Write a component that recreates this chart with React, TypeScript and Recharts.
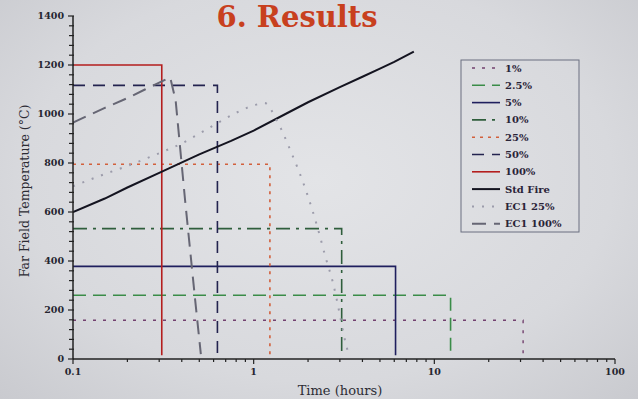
import { Line, LineChart, XAxis, YAxis } from 'recharts'

// step curves: constant temperature until burnout, then drop
const STEP_LABELS = ['1%', '2.5%', '5%', '10%', '25%', '50%', '100%']
const STEP_LEVELS = [158, 260, 378, 532, 795, 1117, 1200]
const STEP_END_HOURS = [31, 12.3, 6.1, 3.07, 1.23, 0.63, 0.31]
const STEP_FLOOR = 15

const STD_FIRE_HOURS = [0.1, 0.15, 0.2, 0.3, 0.5, 0.75, 1, 1.5, 2, 3, 4, 5, 6, 7.7]
const STD_FIRE_TEMP = [600, 655, 700, 760, 835, 890, 932, 1000, 1048, 1110, 1152, 1185, 1213, 1255]

const EC1_25_HOURS = [0.1, 0.15, 0.2, 0.3, 0.4, 0.5, 0.63, 0.8, 1, 1.15, 1.34, 1.6, 1.97, 2.25, 2.5, 2.75, 3, 3.15, 3.35]
const EC1_25_TEMP = [705, 755, 788, 840, 880, 920, 963, 1005, 1035, 1045, 975, 850, 677, 540, 415, 310, 180, 100, 20]

const EC1_100_HOURS = [0.1, 0.15, 0.2, 0.25, 0.3, 0.345, 0.37, 0.417, 0.473, 0.51]
const EC1_100_TEMP = [965, 1025, 1065, 1100, 1128, 1150, 1055, 650, 250, 20]

const X_TICKS = [
  0.1, 0.2, 0.3, 0.4, 0.5, 0.6, 0.7, 0.8, 0.9,
  1, 2, 3, 4, 5, 6, 7, 8, 9,
  10, 20, 30, 40, 50, 60, 70, 80, 90, 100,
]
const X_MAJOR = [0.1, 1, 10, 100]
const Y_TICKS = Array.from({ length: 36 }, (_, i) => i * 40)

const STYLES = [
  { color: '#73416f', dash: '3 7', width: 1.4, curve: 'linear' },
  { color: '#3a8c48', dash: '13 7', width: 1.6, curve: 'linear' },
  { color: '#1f1f5e', dash: undefined, width: 1.6, curve: 'linear' },
  { color: '#2f5e3c', dash: '14 6 3 6', width: 1.6, curve: 'linear' },
  { color: '#d2603c', dash: '3 5', width: 1.6, curve: 'linear' },
  { color: '#23234f', dash: '12 8', width: 1.6, curve: 'linear' },
  { color: '#b41e1e', dash: undefined, width: 1.6, curve: 'linear' },
  { color: '#141420', dash: undefined, width: 2, curve: 'linear' },
  { color: '#9c9cab', dash: '2 8', width: 2, curve: 'monotone' },
  { color: '#666674', dash: '14 8', width: 2, curve: 'linear' },
]

const toPoints = (xs: number[], ys: number[]) => xs.map((x, i) => ({ x, y: ys[i] }))

const series = [
  ...STEP_LABELS.map((name, i) => ({
    name,
    points: [
      { x: 0.1, y: STEP_LEVELS[i] },
      { x: STEP_END_HOURS[i], y: STEP_LEVELS[i] },
      { x: STEP_END_HOURS[i], y: STEP_FLOOR },
    ],
  })),
  { name: 'Std Fire', points: toPoints(STD_FIRE_HOURS, STD_FIRE_TEMP) },
  { name: 'EC1 25%', points: toPoints(EC1_25_HOURS, EC1_25_TEMP) },
  { name: 'EC1 100%', points: toPoints(EC1_100_HOURS, EC1_100_TEMP) },
].map((s, i) => ({ ...s, ...STYLES[i] }))

const tickFont = { fontFamily: '"DejaVu Serif", serif', fontSize: 9.5, fontWeight: 700, fill: '#252530' }

function XTick({ x, y, payload }: any) {
  const major = X_MAJOR.includes(payload.value)
  return (
    <g>
      <line x1={x} x2={x} y1={y} y2={y + (major ? 5 : 3)} stroke="#222" strokeWidth={1.2} />
      {major && (
        <text x={x} y={y + 16} textAnchor="middle" {...tickFont}>
          {payload.value}
        </text>
      )}
    </g>
  )
}

function YTick({ x, y, payload }: any) {
  const major = payload.value % 200 === 0
  return (
    <g>
      <line x1={x - (major ? 5 : 4)} x2={x + 1} y1={y} y2={y} stroke="#222" strokeWidth={1.2} />
      {major && (
        <text x={x - 9} y={y + 3} textAnchor="end" {...tickFont}>
          {payload.value}
        </text>
      )}
    </g>
  )
}

export default function App() {
  return (
    <div
      style={{
        position: 'absolute',
        left: 0,
        top: 0,
        width: 638,
        height: 399,
        overflow: 'hidden',
        background: 'radial-gradient(ellipse at 50% 45%, #e3e4e7 0%, #d8d9dd 65%, #c9cacf 100%)',
      }}
    >
      <LineChart width={638} height={399} margin={{ top: 16, right: 23, bottom: 0, left: 0 }}>
        <XAxis
          dataKey="x"
          type="number"
          scale="log"
          domain={[0.1, 100]}
          ticks={X_TICKS}
          allowDataOverflow
          height={40}
          tickSize={0}
          tickMargin={0}
          tickLine={false}
          tick={<XTick />}
          axisLine={{ stroke: '#222', strokeWidth: 1.5 }}
          interval={0}
        />
        <YAxis
          dataKey="y"
          type="number"
          domain={[0, 1400]}
          ticks={Y_TICKS}
          allowDataOverflow
          width={73}
          tickSize={0}
          tickMargin={0}
          tickLine={false}
          tick={<YTick />}
          axisLine={{ stroke: '#222', strokeWidth: 1.5 }}
          interval={0}
        />
        {series.map(s => (
          <Line
            key={s.name}
            name={s.name}
            data={s.points}
            dataKey="y"
            type={s.curve as any}
            stroke={s.color}
            strokeWidth={s.width}
            strokeDasharray={s.dash}
            dot={false}
            activeDot={false}
            isAnimationActive={false}
          />
        ))}
      </LineChart>

      <svg width={638} height={399} style={{ position: 'absolute', left: 0, top: 0, pointerEvents: 'none' }}>
        <text
          x={297}
          y={27}
          textAnchor="middle"
          fontFamily='"DejaVu Serif", serif'
          fontWeight={700}
          fontSize={29}
          fill="#c8401e"
        >
          6. Results
        </text>
        <text
          x={0}
          y={0}
          transform="translate(29 191) rotate(-90)"
          textAnchor="middle"
          fontFamily='"DejaVu Serif", serif'
          fontSize={12.5}
          fill="#2c2c34"
        >
          Far Field Temperature (°C)
        </text>
        <text
          x={340}
          y={395}
          textAnchor="middle"
          fontFamily='"DejaVu Serif", serif'
          fontSize={13}
          fill="#2c2c34"
        >
          Time (hours)
        </text>

        <rect x={461} y={60} width={118} height={172} fill="none" stroke="#6a6f80" strokeWidth={1} />
        {series.map((s, i) => {
          const cy = 68 + i * 17.3
          return (
            <g key={s.name}>
              <line
                x1={472}
                x2={500}
                y1={cy}
                y2={cy}
                stroke={s.color}
                strokeWidth={s.width}
                strokeDasharray={s.dash}
              />
              <text
                x={505}
                y={cy + 3.5}
                fontFamily='"DejaVu Serif", serif'
                fontWeight={700}
                fontSize={10}
                fill="#2a2438"
              >
                {s.name}
              </text>
            </g>
          )
        })}
      </svg>
    </div>
  )
}
